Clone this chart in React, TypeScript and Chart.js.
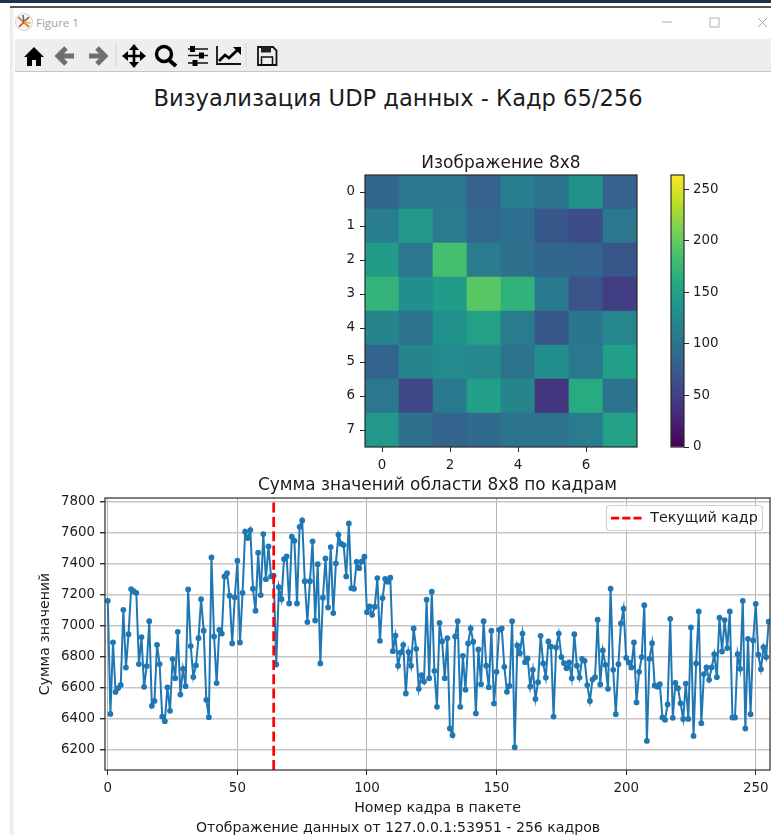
import React, { useEffect, useRef } from "react";
import { Chart, registerables } from "chart.js";

Chart.register(...registerables);

const FONT = '"DejaVu Sans"';
const INK = "#1c1c1c";
const SPINE = "#2a2a2a";

const suptitle = "Визуализация UDP данных - Кадр 65/256";
const heatTitle = "Изображение 8x8";
const lineTitle = "Сумма значений области 8x8 по кадрам";
const xAxisTitle = "Номер кадра в пакете";
const yAxisTitle = "Сумма значений";
const legendLabel = "Текущий кадр";
const footer = "Отображение данных от 127.0.0.1:53951 - 256 кадров";

const row0 = [87, 105, 105, 82, 112, 100, 132, 82];
const row1 = [112, 140, 110, 90, 95, 72, 62, 105];
const row2 = [145, 105, 185, 110, 96, 88, 85, 70];
const row3 = [172, 130, 145, 195, 170, 108, 68, 48];
const row4 = [118, 100, 132, 150, 110, 72, 102, 120];
const row5 = [85, 118, 125, 122, 100, 130, 105, 148];
const row6 = [105, 58, 108, 148, 118, 42, 162, 100];
const row7 = [140, 98, 85, 92, 100, 100, 110, 150];
const imageRows = [row0, row1, row2, row3, row4, row5, row6, row7];

const heatXTicks = [0, 2, 4, 6];
const heatYTicks = [0, 1, 2, 3, 4, 5, 6, 7];
const colorbarTicks = [0, 50, 100, 150, 200, 250];
const colorMax = 264;

const frameSumsA = [
  7158, 6428, 6890, 6570, 6595, 6615, 7100, 6727, 6943, 7234, 7220, 7210, 6750, 6924, 6603, 6737,
  7027, 6480, 6512, 6874, 6750, 6411, 6381, 6600, 6448, 6782, 6659, 6958, 6553, 6719, 6607, 7232,
  6866, 6667, 6741, 6917, 7169, 6965, 6519, 6407, 7438, 6928, 6627, 6971,
];
const frameSumsB = [
  6947, 7316, 7337, 7191, 6883, 7180, 7417, 6889, 7210, 7604, 7563, 7615, 7236, 7094, 7469, 7195,
  7589, 7298, 7509, 7316, 7320, 6747, 7247, 7169, 7428, 7445, 7141, 7572, 7546, 7141, 7636, 7677,
  7285, 7021, 7285, 7542, 7031, 7395, 6754, 7178, 7432, 7115, 7505, 7079, 7400, 7585, 7527, 7518,
  7316, 7658, 7240, 7236, 7410, 7369, 7412, 7443, 7085, 7122, 7068, 7120, 7305, 6900, 7176, 7300,
  7281, 7307,
];
const frameSumsC = [
  6833, 6934, 6739, 6825, 6874, 6560, 6827, 6739, 6980, 6848, 6590, 6678, 6637, 7165, 6659, 7217,
  6706, 6474, 7016, 6896, 6659, 6917, 6334, 6291, 6928, 7027, 6474, 6803, 6584, 6883, 6980, 6894,
  6431, 6844, 6620, 7027, 6739, 6601, 6965, 6495, 6700, 6971, 6980, 6732, 6571, 6609, 7027, 6213,
  6870, 6820, 6947, 6762, 6786, 6605, 6713, 6525, 6633, 6932, 6754, 6663, 6896, 6863, 6411, 6857,
  6947, 6795, 6756, 6723, 6760, 6659, 6943, 6739, 6663,
];
const frameSumsD = [
  6784, 6771, 6614, 6512, 6650, 6665, 7036, 6618, 6838, 6745, 6590, 7236, 6713, 6426, 6749, 7012,
  7107, 6790, 6760, 6728, 6889, 6502, 6700, 6795, 7130, 6254, 6784, 6885, 6612, 6603, 6620, 6405,
  6390, 6489, 7042, 6403, 6629, 6594, 6497, 6396, 6624, 6396, 6986, 6286, 6754, 7090, 6368, 6685,
  6728, 6648, 6728, 6814, 6665, 7049, 6831, 7034, 6853, 7090, 6405, 6405, 6814, 6719, 7158, 6334,
  6913, 6426, 6902, 7139, 6810, 6717, 6859, 6795, 7023,
];
const frameSums = [...frameSumsA, ...frameSumsB, ...frameSumsC, ...frameSumsD];
const currentFrame = 64;
const lineXTicks = [0, 50, 100, 150, 200, 250];
const lineYTicks = [6200, 6400, 6600, 6800, 7000, 7200, 7400, 7600, 7800];
const yMin = 6066;
const yMax = 7822;
const xMin = -1.08;
const xMax = 255.5;

const viridis = [
  [68, 1, 84], [72, 36, 117], [65, 68, 135], [53, 95, 141], [42, 120, 142], [33, 145, 140],
  [34, 168, 132], [68, 191, 112], [122, 209, 81], [189, 223, 38], [253, 231, 37],
];

function colorAt(t: number) {
  const p = Math.max(0, Math.min(1, t)) * (viridis.length - 1);
  const i = Math.min(Math.floor(p), viridis.length - 2);
  const f = p - i;
  const c = viridis[i].map((a, k) => Math.round(a + (viridis[i + 1][k] - a) * f));
  return `rgb(${c[0]},${c[1]},${c[2]})`;
}

const framePlugin = {
  id: "frame",
  afterDraw(chart: any) {
    const { ctx, chartArea: a } = chart;
    ctx.save();
    ctx.strokeStyle = SPINE;
    ctx.lineWidth = 1.2;
    ctx.strokeRect(a.left, a.top, a.right - a.left, a.bottom - a.top);
    ctx.restore();
  },
};

const setTicks = (vals: number[]) => (axis: any) => {
  axis.ticks = vals.map((value) => ({ value }));
};
const fixSize = (w: number | null, h: number | null) => (s: any) => {
  if (w !== null) s.width = w;
  if (h !== null) s.height = h;
  s.paddingLeft = s.paddingRight = s.paddingTop = s.paddingBottom = 0;
};
const tickFont = { family: FONT, size: 13.4 };
const plain = (v: any) => String(v);

function makeHeat(canvas: HTMLCanvasElement) {
  const cells = imageRows.flatMap((r, y) => r.map((v, x) => ({ x, y: [y - 0.5, y + 0.5], v })));
  return new Chart(canvas, {
    type: "bar",
    data: {
      datasets: [{
        data: cells as any,
        backgroundColor: cells.map((c) => colorAt(c.v / colorMax)),
        borderWidth: 0,
        barPercentage: 1,
        categoryPercentage: 1,
      }],
    },
    options: {
      animation: false, responsive: false,
      layout: { autoPadding: false, padding: { left: 0, right: 13, top: 0, bottom: 0 } },
      plugins: {
        legend: { display: false }, tooltip: { enabled: false },
        title: {
          display: true, text: heatTitle, color: INK, fullSize: false,
          font: { family: FONT, size: 17, weight: "normal", lineHeight: "20px" },
          padding: { top: 4, bottom: 1 },
        },
      },
      scales: {
        x: {
          type: "linear", min: -0.5, max: 7.5, offset: false,
          grid: { drawOnChartArea: false, tickLength: 5, tickColor: SPINE, offset: false },
          border: { display: false },
          afterBuildTicks: setTicks(heatXTicks),
          afterFit: fixSize(null, 33),
          ticks: { color: INK, font: tickFont, padding: 5, maxRotation: 0, autoSkip: false, callback: plain },
        },
        y: {
          type: "linear", min: -0.5, max: 7.5, reverse: true,
          grid: { drawOnChartArea: false, tickLength: 5, tickColor: SPINE },
          border: { display: false },
          afterBuildTicks: setTicks(heatYTicks),
          afterFit: fixSize(45, null),
          ticks: { color: INK, font: tickFont, padding: 5, autoSkip: false, callback: plain },
        },
      },
    } as any,
    plugins: [framePlugin],
  });
}

function makeColorbar(canvas: HTMLCanvasElement) {
  return new Chart(canvas, {
    type: "bar",
    data: {
      datasets: [{
        data: [{ x: 0, y: [0, colorMax] }] as any,
        barThickness: 14,
        borderWidth: 0,
        backgroundColor: (c: any) => {
          const { chart } = c;
          const a = chart.chartArea;
          if (!a) return "#21918c";
          const g = chart.ctx.createLinearGradient(0, a.bottom, 0, a.top);
          viridis.forEach((_, i) => g.addColorStop(i / (viridis.length - 1), colorAt(i / (viridis.length - 1))));
          return g;
        },
      }],
    },
    options: {
      animation: false, responsive: false,
      layout: { autoPadding: false, padding: { left: 1, right: 0, top: 15, bottom: 13 } },
      plugins: { legend: { display: false }, tooltip: { enabled: false } },
      scales: {
        x: {
          type: "linear", min: -0.5, max: 0.5, offset: false, display: false,
        },
        y: {
          type: "linear", min: 0, max: colorMax, position: "right",
          grid: { drawOnChartArea: false, tickLength: 5, tickColor: SPINE },
          border: { display: false },
          afterBuildTicks: setTicks(colorbarTicks),
          afterFit: fixSize(87, null),
          ticks: { color: INK, font: tickFont, padding: 4, autoSkip: false, callback: plain },
        },
      },
    } as any,
    plugins: [framePlugin],
  });
}

const legendBoxPlugin = {
  id: "legendBox",
  afterLayout(chart: any) {
    const l = chart.legend;
    l.left = 606; l.right = 763; l.top = 36; l.bottom = 62; l.width = 157; l.height = 26;
    if (!l.__boxed) {
      l.__boxed = true;
      const base = l.draw.bind(l);
      l.draw = (area: any) => {
        const { ctx } = chart;
        ctx.save();
        ctx.beginPath();
        ctx.roundRect(606.5, 35.5, 156, 25, 3);
        ctx.fillStyle = "rgba(255,255,255,0.8)";
        ctx.fill();
        ctx.strokeStyle = "#d2d2d2";
        ctx.lineWidth = 1.2;
        ctx.stroke();
        ctx.restore();
        base(area);
      };
    }
  },
};

function makeLine(canvas: HTMLCanvasElement) {
  return new Chart(canvas, {
    type: "scatter",
    data: {
      datasets: [
        {
          label: legendLabel,
          data: [{ x: currentFrame, y: yMin }, { x: currentFrame, y: yMax }],
          showLine: true, borderColor: "#ff0000", borderWidth: 2.7, borderDash: [10, 4.3],
          pointRadius: 0,
        },
        {
          label: "sums",
          data: frameSums.map((y, x) => ({ x, y })),
          showLine: true, borderColor: "#1f77b4", borderWidth: 2,
          pointRadius: 2.9, pointBackgroundColor: "#1f77b4", pointBorderWidth: 0,
        },
      ],
    },
    options: {
      animation: false, responsive: false,
      layout: { autoPadding: false, padding: { left: 0, right: 1, top: 0, bottom: 0 } },
      plugins: {
        tooltip: { enabled: false },
        title: {
          display: true, text: lineTitle, color: INK, fullSize: false,
          font: { family: FONT, size: 16.9, weight: "normal", lineHeight: "20px" },
          padding: { top: 6, bottom: 2 },
        },
        legend: {
          position: "chartArea", align: "start",
          labels: {
            usePointStyle: true, pointStyle: "line", pointStyleWidth: 32, boxHeight: 10,
            padding: 5, color: INK, font: { family: FONT, size: 14.3 },
            generateLabels: () => [{
              text: legendLabel, strokeStyle: "#ff0000", fillStyle: "#ff0000", fontColor: INK,
              lineWidth: 2.7, lineDash: [8.2, 3], pointStyle: "line", hidden: false, datasetIndex: 0,
            }],
          },
        },
      },
      scales: {
        x: {
          type: "linear", min: xMin, max: xMax,
          grid: { color: "#b4b4b4", lineWidth: 1, tickLength: 5, tickColor: SPINE },
          border: { display: false },
          afterBuildTicks: setTicks(lineXTicks),
          afterFit: fixSize(null, 65),
          ticks: { color: INK, font: tickFont, padding: 5, maxRotation: 0, autoSkip: false, callback: plain },
          title: {
            display: true, text: xAxisTitle, color: INK,
            font: { family: FONT, size: 14.2, lineHeight: "16px" },
            padding: { top: 0, bottom: 19 },
          },
        },
        y: {
          type: "linear", min: yMin, max: yMax,
          grid: { color: "#c6c6c6", lineWidth: 1.4, tickLength: 5, tickColor: SPINE },
          border: { display: false },
          afterBuildTicks: setTicks(lineYTicks),
          afterFit: fixSize(105, null),
          ticks: { color: INK, font: tickFont, padding: 5, autoSkip: false, callback: plain },
          title: {
            display: true, text: yAxisTitle, color: INK,
            font: { family: FONT, size: 14.1, lineHeight: "16px" },
            padding: { top: 37, bottom: 0 },
          },
        },
      },
    } as any,
    plugins: [legendBoxPlugin, framePlugin],
  });
}

const abs = (left: number, top: number, width: number, height: number): React.CSSProperties => ({
  position: "absolute", left, top, width, height, display: "block",
});

function Toolbar() {
  return (
    <svg width={771} height={835} style={{ position: "absolute", left: 0, top: 0 }}>
      <g transform="translate(24,22)">
        <circle r="8.5" fill="#f6f6f6" stroke="#d4d4d4" />
        <path d="M-6,-5 L5,5" stroke="#e8862a" strokeWidth="2" />
        <path d="M-5,5 L5,-5" stroke="#c8402c" strokeWidth="1.6" />
        <path d="M0,0 L-1,-7" stroke="#2a7ab4" strokeWidth="1.6" />
        <path d="M0,0 L7,1" stroke="#e8c22a" strokeWidth="1.6" />
      </g>
      <polygon points="24,57 34,47 44,57 41,57 41,66 36,66 36,60 32,60 32,66 27,66 27,57" fill="#000" />
      <g fill="none" stroke="#6f6f6f" strokeWidth="5">
        <path d="M74,56 H59" />
        <path d="M66,48 L58,56 L66,64" />
        <path d="M89,56 H104" />
        <path d="M97,48 L105,56 L97,64" />
      </g>
      <path d="M116,43 V67 M246,43 V67" stroke="#d6d6d6" />
      <g stroke="#000" strokeWidth="2.6">
        <path d="M134,48 V64 M126,56 H142" />
      </g>
      <polygon points="134,44 139,50 129,50" /><polygon points="134,68 139,62 129,62" />
      <polygon points="122,56 128,51 128,61" /><polygon points="146,56 140,51 140,61" />
      <circle cx="164" cy="54" r="7.5" fill="none" stroke="#000" strokeWidth="3.4" />
      <path d="M169,60 L176,66" stroke="#000" strokeWidth="4" />
      <g stroke="#111" strokeWidth="1.4">
        <path d="M188,49 H208 M188,55.5 H208 M188,63 H208" />
      </g>
      <rect x="190" y="46" width="5" height="6" /><rect x="199" y="52.5" width="5" height="6" /><rect x="192.5" y="60" width="5" height="6" />
      <path d="M217,46 V64 H241" fill="none" stroke="#111" strokeWidth="1.8" />
      <path d="M219,61 L225,55 L229,58 L238,49.5" fill="none" stroke="#000" strokeWidth="2.8" />
      <polygon points="241,47 233,47 241,55" />
      <path d="M258,47 H273 L276.5,50.5 V65 H258 Z" fill="none" stroke="#111" strokeWidth="1.8" />
      <rect x="261" y="46.5" width="10" height="6" fill="#222" />
      <rect x="261.5" y="57" width="11" height="8" fill="none" stroke="#111" strokeWidth="1.5" />
      <path d="M662,22 H672" stroke="#c4c4c4" strokeWidth="1.4" />
      <rect x="710" y="18" width="9" height="9" fill="none" stroke="#bdbdbd" strokeWidth="1.2" />
      <path d="M758,18 L767,27 M767,18 L758,27" stroke="#a8a8a8" strokeWidth="1" />
    </svg>
  );
}

export default function App() {
  const heat = useRef<HTMLCanvasElement>(null);
  const bar = useRef<HTMLCanvasElement>(null);
  const line = useRef<HTMLCanvasElement>(null);

  useEffect(() => {
    const charts = [makeHeat(heat.current!), makeColorbar(bar.current!), makeLine(line.current!)];
    return () => charts.forEach((c) => c.destroy());
  }, []);

  const centered = (top: number, size: number): React.CSSProperties => ({
    position: "absolute", left: 0, width: 796, top, textAlign: "center", fontFamily: FONT,
    fontSize: size, lineHeight: "20px", color: INK, whiteSpace: "nowrap",
  });

  return (
    <div style={{ position: "absolute", left: 0, top: 0, width: 771, height: 835, overflow: "hidden", background: "#fff" }}>
      <div style={{ position: "absolute", left: 0, top: 0, width: 771, height: 3, background: "#1f3050" }} />
      <div style={{ position: "absolute", left: 10, top: 6, width: 761, height: 2, background: "#555" }} />
      <div style={{ position: "absolute", left: 10, top: 39, width: 761, height: 32, background: "#eeeeee" }} />
      <div style={{ position: "absolute", left: 10, top: 71, width: 761, height: 1, background: "#c6c6c6" }} />
      <div style={{ position: "absolute", left: 10, top: 8, width: 5, height: 827, background: "linear-gradient(to right,#e6e6e6,#ffffff)" }} />
      <Toolbar />
      <div style={{ position: "absolute", left: 36, top: 14, fontFamily: '"Open Sans"', fontSize: 11.5, lineHeight: "18px", color: "#a0a0a0" }}>Figure 1</div>
      <div style={centered(88, 22.6)}>{suptitle}</div>
      <canvas ref={heat} width={330} height={330} style={abs(320, 150, 330, 330)} />
      <canvas ref={bar} width={101} height={300} style={abs(670, 160, 101, 300)} />
      <canvas ref={line} width={771} height={365} style={abs(0, 470, 771, 365)} />
      <div style={centered(817, 14.1)}>{footer}</div>
    </div>
  );
}
